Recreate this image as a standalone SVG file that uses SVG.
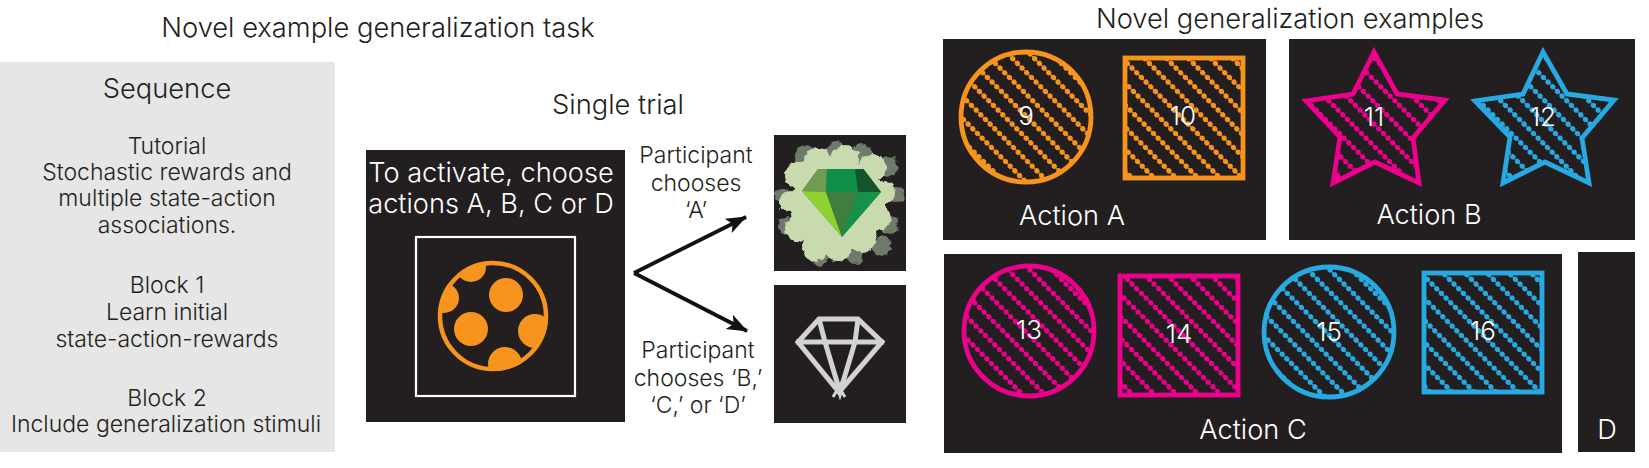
<svg xmlns="http://www.w3.org/2000/svg" width="1649" height="468" viewBox="0 0 1649 468">
<style>
text{font-family:Inter,"Liberation Sans",sans-serif;font-weight:300;text-anchor:middle;fill:#231f20}
.t{font-size:27.3px}.b{font-size:23px}.w{fill:#fff;font-size:27.2px}.n{fill:#fff;font-size:26px}
.p{fill:#231f20}
.sh{stroke-width:4.8;fill:none}
.dots{fill:none;stroke-width:5.2;stroke-linecap:round;stroke-dasharray:0.01 6.6}
.thin{fill:none;stroke-width:1.2}
.o{stroke:#f7941d}.m{stroke:#ec008c}.c{stroke:#27aae1}
</style>
<defs>
<g id="hatch">
<path class="dots" d="M-198 0L2 200M-176 0L24 200M-154 0L46 200M-132 0L68 200M-110 0L90 200M-88 0L112 200M-66 0L134 200M-44 0L156 200M-22 0L178 200M0 0L200 200M22 0L222 200M44 0L244 200M66 0L266 200M88 0L288 200M110 0L310 200M132 0L332 200M154 0L354 200"/>
<path class="thin" d="M-198 0L2 200M-176 0L24 200M-154 0L46 200M-132 0L68 200M-110 0L90 200M-88 0L112 200M-66 0L134 200M-44 0L156 200M-22 0L178 200M0 0L200 200M22 0L222 200M44 0L244 200M66 0L266 200M88 0L288 200M110 0L310 200M132 0L332 200M154 0L354 200"/>
</g>
<clipPath id="disc"><circle cx="493" cy="316" r="55"/></clipPath>
<clipPath id="c9"><circle cx="1026" cy="117" r="65"/></clipPath>
<clipPath id="c10"><rect x="1125" y="58" width="118" height="120"/></clipPath>
<clipPath id="c11"><path d="M1374 52L1353 94L1306 101L1340 137L1333 183L1375 162L1419 183L1413 138L1445 100L1397 94Z"/></clipPath>
<clipPath id="c12"><path d="M1543 52L1523 94L1475 101L1510 137L1503 183L1545 162L1589 183L1582 138L1614 100L1567 94Z"/></clipPath>
<clipPath id="c13"><circle cx="1029" cy="331" r="65"/></clipPath>
<clipPath id="c14"><rect x="1120" y="276" width="118" height="119"/></clipPath>
<clipPath id="c15"><circle cx="1329" cy="332" r="65"/></clipPath>
<clipPath id="c16"><rect x="1424" y="273" width="118" height="119"/></clipPath>
<filter id="rough" x="-20%" y="-20%" width="140%" height="140%"><feTurbulence type="fractalNoise" baseFrequency="0.14" numOctaves="2" seed="7"/><feDisplacementMap in="SourceGraphic" scale="7" xChannelSelector="R" yChannelSelector="G"/></filter>
<marker id="ah" markerUnits="userSpaceOnUse" markerWidth="22" markerHeight="18" refX="20" refY="8" orient="auto"><path d="M0 0L21 8L0 16L5 8Z" fill="#111"/></marker>
</defs>
<rect width="1649" height="468" fill="#fff"/>

<g id="titles">
<text class="t" x="378" y="37">Novel example generalization task</text>
<text class="t" x="1290" y="28">Novel generalization examples</text>
<text class="t" x="618" y="114">Single trial</text>
</g>

<g id="sequence">
<rect x="0" y="62" width="335" height="390" fill="#e6e6e6"/>
<text class="t" x="167" y="98">Sequence</text>
<text class="b" x="167" y="154">Tutorial</text>
<text class="b" x="167" y="180">Stochastic rewards and</text>
<text class="b" x="167" y="206">multiple state-action</text>
<text class="b" x="167" y="233">associations.</text>
<text class="b" x="167" y="293">Block 1</text>
<text class="b" x="167" y="320">Learn initial</text>
<text class="b" x="167" y="347">state-action-rewards</text>
<text class="b" x="167" y="406">Block 2</text>
<text class="b" x="166" y="432">Include generalization stimuli</text>
</g>

<g id="trial">
<rect class="p" x="366" y="150" width="259" height="272"/>
<text class="w" x="491" y="182">To activate, choose</text>
<text class="w" x="491" y="213">actions A, B, C or D</text>
<rect x="416" y="237" width="159" height="159" fill="none" stroke="#fff" stroke-width="2.2"/>
<g id="stimulus">
<circle cx="493" cy="316" r="53" fill="none" stroke="#f7941d" stroke-width="4.5"/>
<g fill="#f7941d">
<circle cx="506" cy="295" r="17"/><circle cx="471" cy="329" r="17"/>
<g clip-path="url(#disc)"><circle cx="535" cy="331" r="17"/><circle cx="505" cy="364" r="17"/><circle cx="471" cy="267" r="15"/><circle cx="444" cy="298" r="15"/></g>
</g>
</g>
</g>

<g id="connectors" fill="none" stroke="#111" stroke-width="3.8">
<path d="M634 273L746 217" marker-end="url(#ah)"/>
<path d="M634 273L747 331" marker-end="url(#ah)"/>
</g>

<g id="choice-a-label"><text class="b" x="696" y="163">Participant</text><text class="b" x="696" y="191">chooses</text><text class="b" x="696" y="218">‘A’</text></g>
<g id="choice-b-label"><text class="b" x="698" y="358">Participant</text><text class="b" x="698" y="386">chooses ‘B,’</text><text class="b" x="698" y="413">‘C,’ or ‘D’</text></g>

<g id="reward">
<rect class="p" x="774" y="135" width="132" height="136"/>
<g filter="url(#rough)">
<g fill="#6f7a6b">
<circle cx="806" cy="156" r="11"/><circle cx="835" cy="150" r="9"/><circle cx="862" cy="154" r="10"/><circle cx="888" cy="166" r="10"/><circle cx="897" cy="195" r="8"/><circle cx="890" cy="225" r="9"/><circle cx="882" cy="246" r="10"/><circle cx="855" cy="256" r="8"/><circle cx="820" cy="258" r="8"/><circle cx="786" cy="226" r="8"/><circle cx="782" cy="196" r="7"/>
</g>
<g fill="#c9dbae">
<circle cx="800" cy="175" r="15"/><circle cx="818" cy="162" r="14"/><circle cx="845" cy="160" r="14"/><circle cx="872" cy="168" r="14"/><circle cx="885" cy="192" r="11"/><circle cx="880" cy="218" r="11"/><circle cx="862" cy="240" r="13"/><circle cx="838" cy="250" r="12"/><circle cx="815" cy="248" r="13"/><circle cx="798" cy="228" r="13"/><circle cx="790" cy="202" r="11"/><ellipse cx="838" cy="206" rx="48" ry="46"/>
</g>
</g>
<path d="M818 169L863.500 169L881 192L842 237L802 191Z" fill="#1d8a45"/>
<path d="M818 169L827 169L826 192L802 191Z" fill="#6f9c52"/>
<path d="M802 191L826 192L842 237Z" fill="#8fd033"/>
<path d="M826 192L858 192L842 237Z" fill="#3f7f3d"/>
<path d="M827 169L855 169L858 192L826 192Z" fill="#0f9048"/>
<path d="M855 169L863.500 169L881 192L858 192Z" fill="#14532d"/>
<path d="M858 192L881 192L842 237Z" fill="#14914a"/>
</g>

<g id="no-reward">
<rect class="p" x="774" y="285" width="132" height="138"/>
<g fill="none" stroke="#d2d2d2" stroke-width="5">
<path d="M819 319L858 319L882 342L839 392L798 342Z"/>
<path d="M796 342H884"/>
<path d="M819 319L825 342L840 392L855 342L858 319"/>
<path d="M833 397L842 382M845 397L836 382" stroke-width="3"/>
</g>
</g>

<g id="action-a">
<rect class="p" x="943" y="39" width="323" height="201"/>
<g clip-path="url(#c9)"><use href="#hatch" class="o" x="950" y="40"/></g><circle class="o sh" cx="1026" cy="117" r="65"/>
<g clip-path="url(#c10)"><use href="#hatch" class="o" x="1060" y="40"/></g><rect class="o sh" x="1125" y="58" width="118" height="120"/>
<text class="n" x="1026" y="125">9</text><text class="n" x="1183" y="125">10</text>
<text class="w" x="1072" y="225">Action A</text>
</g>

<g id="action-b">
<rect class="p" x="1289" y="39" width="346" height="201"/>
<g clip-path="url(#c11)"><use href="#hatch" class="m" x="1290" y="40"/></g><path class="m sh" d="M1374 52L1353 94L1306 101L1340 137L1333 183L1375 162L1419 183L1413 138L1445 100L1397 94Z"/>
<g clip-path="url(#c12)"><use href="#hatch" class="c" x="1462" y="40"/></g><path class="c sh" d="M1543 52L1523 94L1475 101L1510 137L1503 183L1545 162L1589 183L1582 138L1614 100L1567 94Z"/>
<text class="n" x="1374" y="126">11</text><text class="n" x="1543" y="126">12</text>
<text class="w" x="1429" y="224">Action B</text>
</g>

<g id="action-c">
<rect class="p" x="944" y="254" width="618" height="199"/>
<g clip-path="url(#c13)"><use href="#hatch" class="m" x="950" y="256"/></g><circle class="m sh" cx="1029" cy="331" r="65"/>
<g clip-path="url(#c14)"><use href="#hatch" class="m" x="1060" y="256"/></g><rect class="m sh" x="1120" y="276" width="118" height="119"/>
<g clip-path="url(#c15)"><use href="#hatch" class="c" x="1250" y="256"/></g><circle class="c sh" cx="1329" cy="332" r="65"/>
<g clip-path="url(#c16)"><use href="#hatch" class="c" x="1360" y="256"/></g><rect class="c sh" x="1424" y="273" width="118" height="119"/>
<text class="n" x="1029" y="339">13</text><text class="n" x="1179" y="343">14</text><text class="n" x="1329" y="341">15</text><text class="n" x="1483" y="340">16</text>
<text class="w" x="1253" y="439">Action C</text>
</g>

<g id="action-d">
<rect class="p" x="1578" y="252" width="57" height="200"/>
<text class="w" x="1607" y="439">D</text>
</g>
</svg>
